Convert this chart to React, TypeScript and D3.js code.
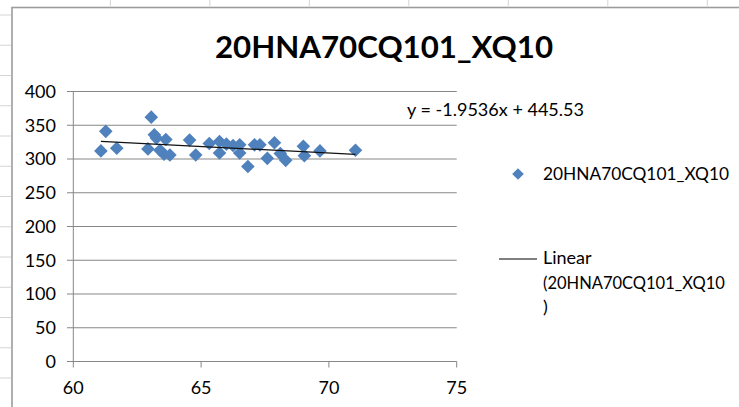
import * as d3 from 'd3';
import React from 'react';

// series
const seriesName = '20HNA70CQ101_XQ10';
const xValues = [
  61.08, 61.27, 61.7, 63.05, 62.92, 63.17, 63.25, 63.39, 63.62, 63.55, 63.78,
  64.55, 64.79, 65.32, 65.72, 65.72, 65.99, 66.25, 66.51, 66.51, 66.83, 67.09,
  67.3, 67.59, 67.87, 68.1, 68.31, 69.0, 69.04, 69.65, 71.04,
];
const yValues = [
  312, 341, 316, 362, 315, 336, 331, 313, 329, 307, 306,
  328, 306, 323, 326, 309, 322, 320, 321, 309, 289, 321,
  321, 301, 324, 308, 298, 319, 305, 312, 313,
];
const trendSlope = -1.9536;
const trendIntercept = 445.53;
const xTicks = [60, 65, 70, 75];
const yTicks = [0, 50, 100, 150, 200, 250, 300, 350, 400];

const W = 739;
const H = 407;
const FONT = "Lato, 'Open Sans', sans-serif";
const GRID = '#878787';
const BLUE = '#4f81bd';

const diamond = (cx: number, cy: number, r: number) =>
  `M${cx},${cy - r}L${cx + r},${cy}L${cx},${cy + r}L${cx - r},${cy}Z`;

export default function App() {
  const x = d3.scaleLinear().domain([60, 75]).range([73.3, 456.7]);
  const y = d3.scaleLinear().domain([0, 400]).range([361.5, 91.5]);

  const points = xValues.map((v, i) => ({ x: v, y: yValues[i] }));
  const [xMin, xMax] = d3.extent(xValues) as [number, number];
  const trend = d3
    .line<number>()
    .x((d) => x(d))
    .y((d) => y(trendSlope * d + trendIntercept));

  // spreadsheet cell borders peeking out around the chart object
  const colEdges = d3.range(110.3, W, 99.5);
  const rowEdges = d3.range(15, H, 30.25);

  return (
    <svg
      width={W}
      height={H}
      style={{ position: 'absolute', left: 0, top: 0, background: '#fff' }}
    >
      {colEdges.map((cx) => (
        <line key={'c' + cx} x1={cx} x2={cx} y1={0} y2={6} stroke="#d4d4d4" />
      ))}
      {rowEdges.map((ry) => (
        <line key={'r' + ry} x1={0} x2={11} y1={ry} y2={ry} stroke="#d4d4d4" />
      ))}

      {/* chart object frame */}
      <rect x={12} y={7.5} width={W} height={H} fill="#fff" stroke="#9c9c9c" strokeWidth={1.6} />

      <text
        x={215}
        y={58}
        textLength={338}
        lengthAdjust="spacingAndGlyphs"
        fontFamily={FONT}
        fontWeight="bold"
        fontSize={30}
        fill="#000"
      >
        {seriesName}
      </text>

      {/* gridlines + y ticks */}
      {yTicks.map((t) => (
        <g key={'y' + t}>
          <line x1={67} x2={x(75)} y1={y(t)} y2={y(t)} stroke={GRID} strokeWidth={1} />
          <text
            x={56}
            y={y(t)}
            dy="0.36em"
            textAnchor="end"
            fontFamily={FONT}
            fontSize={18}
            fill="#000"
          >
            {t}
          </text>
        </g>
      ))}

      <line x1={x(60)} x2={x(60)} y1={y(400)} y2={y(0)} stroke={GRID} strokeWidth={1} />
      {xTicks.map((t) => (
        <g key={'x' + t}>
          <line x1={x(t)} x2={x(t)} y1={y(0)} y2={y(0) + 6} stroke={GRID} strokeWidth={1} />
          <text
            x={x(t)}
            y={394}
            textAnchor="middle"
            fontFamily={FONT}
            fontSize={18}
            fill="#000"
          >
            {t}
          </text>
        </g>
      ))}

      {points.map((p, i) => (
        <path key={i} d={diamond(x(p.x), y(p.y), 6.8)} fill={BLUE} />
      ))}

      <path d={trend([xMin, xMax]) || ''} fill="none" stroke="#111" strokeWidth={1.2} />

      <text
        x={407}
        y={116}
        textLength={177}
        lengthAdjust="spacingAndGlyphs"
        fontFamily={FONT}
        fontSize={17}
        fill="#000"
      >
        y = -1.9536x + 445.53
      </text>

      {/* legend */}
      <path d={diamond(518, 174, 5.8)} fill={BLUE} />
      <text
        x={543}
        y={180}
        textLength={186}
        lengthAdjust="spacingAndGlyphs"
        fontFamily={FONT}
        fontSize={18}
        fill="#000"
      >
        {seriesName}
      </text>
      <line x1={499} x2={537} y1={259} y2={259} stroke="#000" strokeWidth={1} />
      <text x={543} y={264} fontFamily={FONT} fontSize={18} fill="#000">
        Linear
      </text>
      <text x={543} y={288.5} fontFamily={FONT} fontSize={16.5} fill="#000">
        ({seriesName}
      </text>
      <text x={543} y={313} fontFamily={FONT} fontSize={18} fill="#000">
        )
      </text>
    </svg>
  );
}
